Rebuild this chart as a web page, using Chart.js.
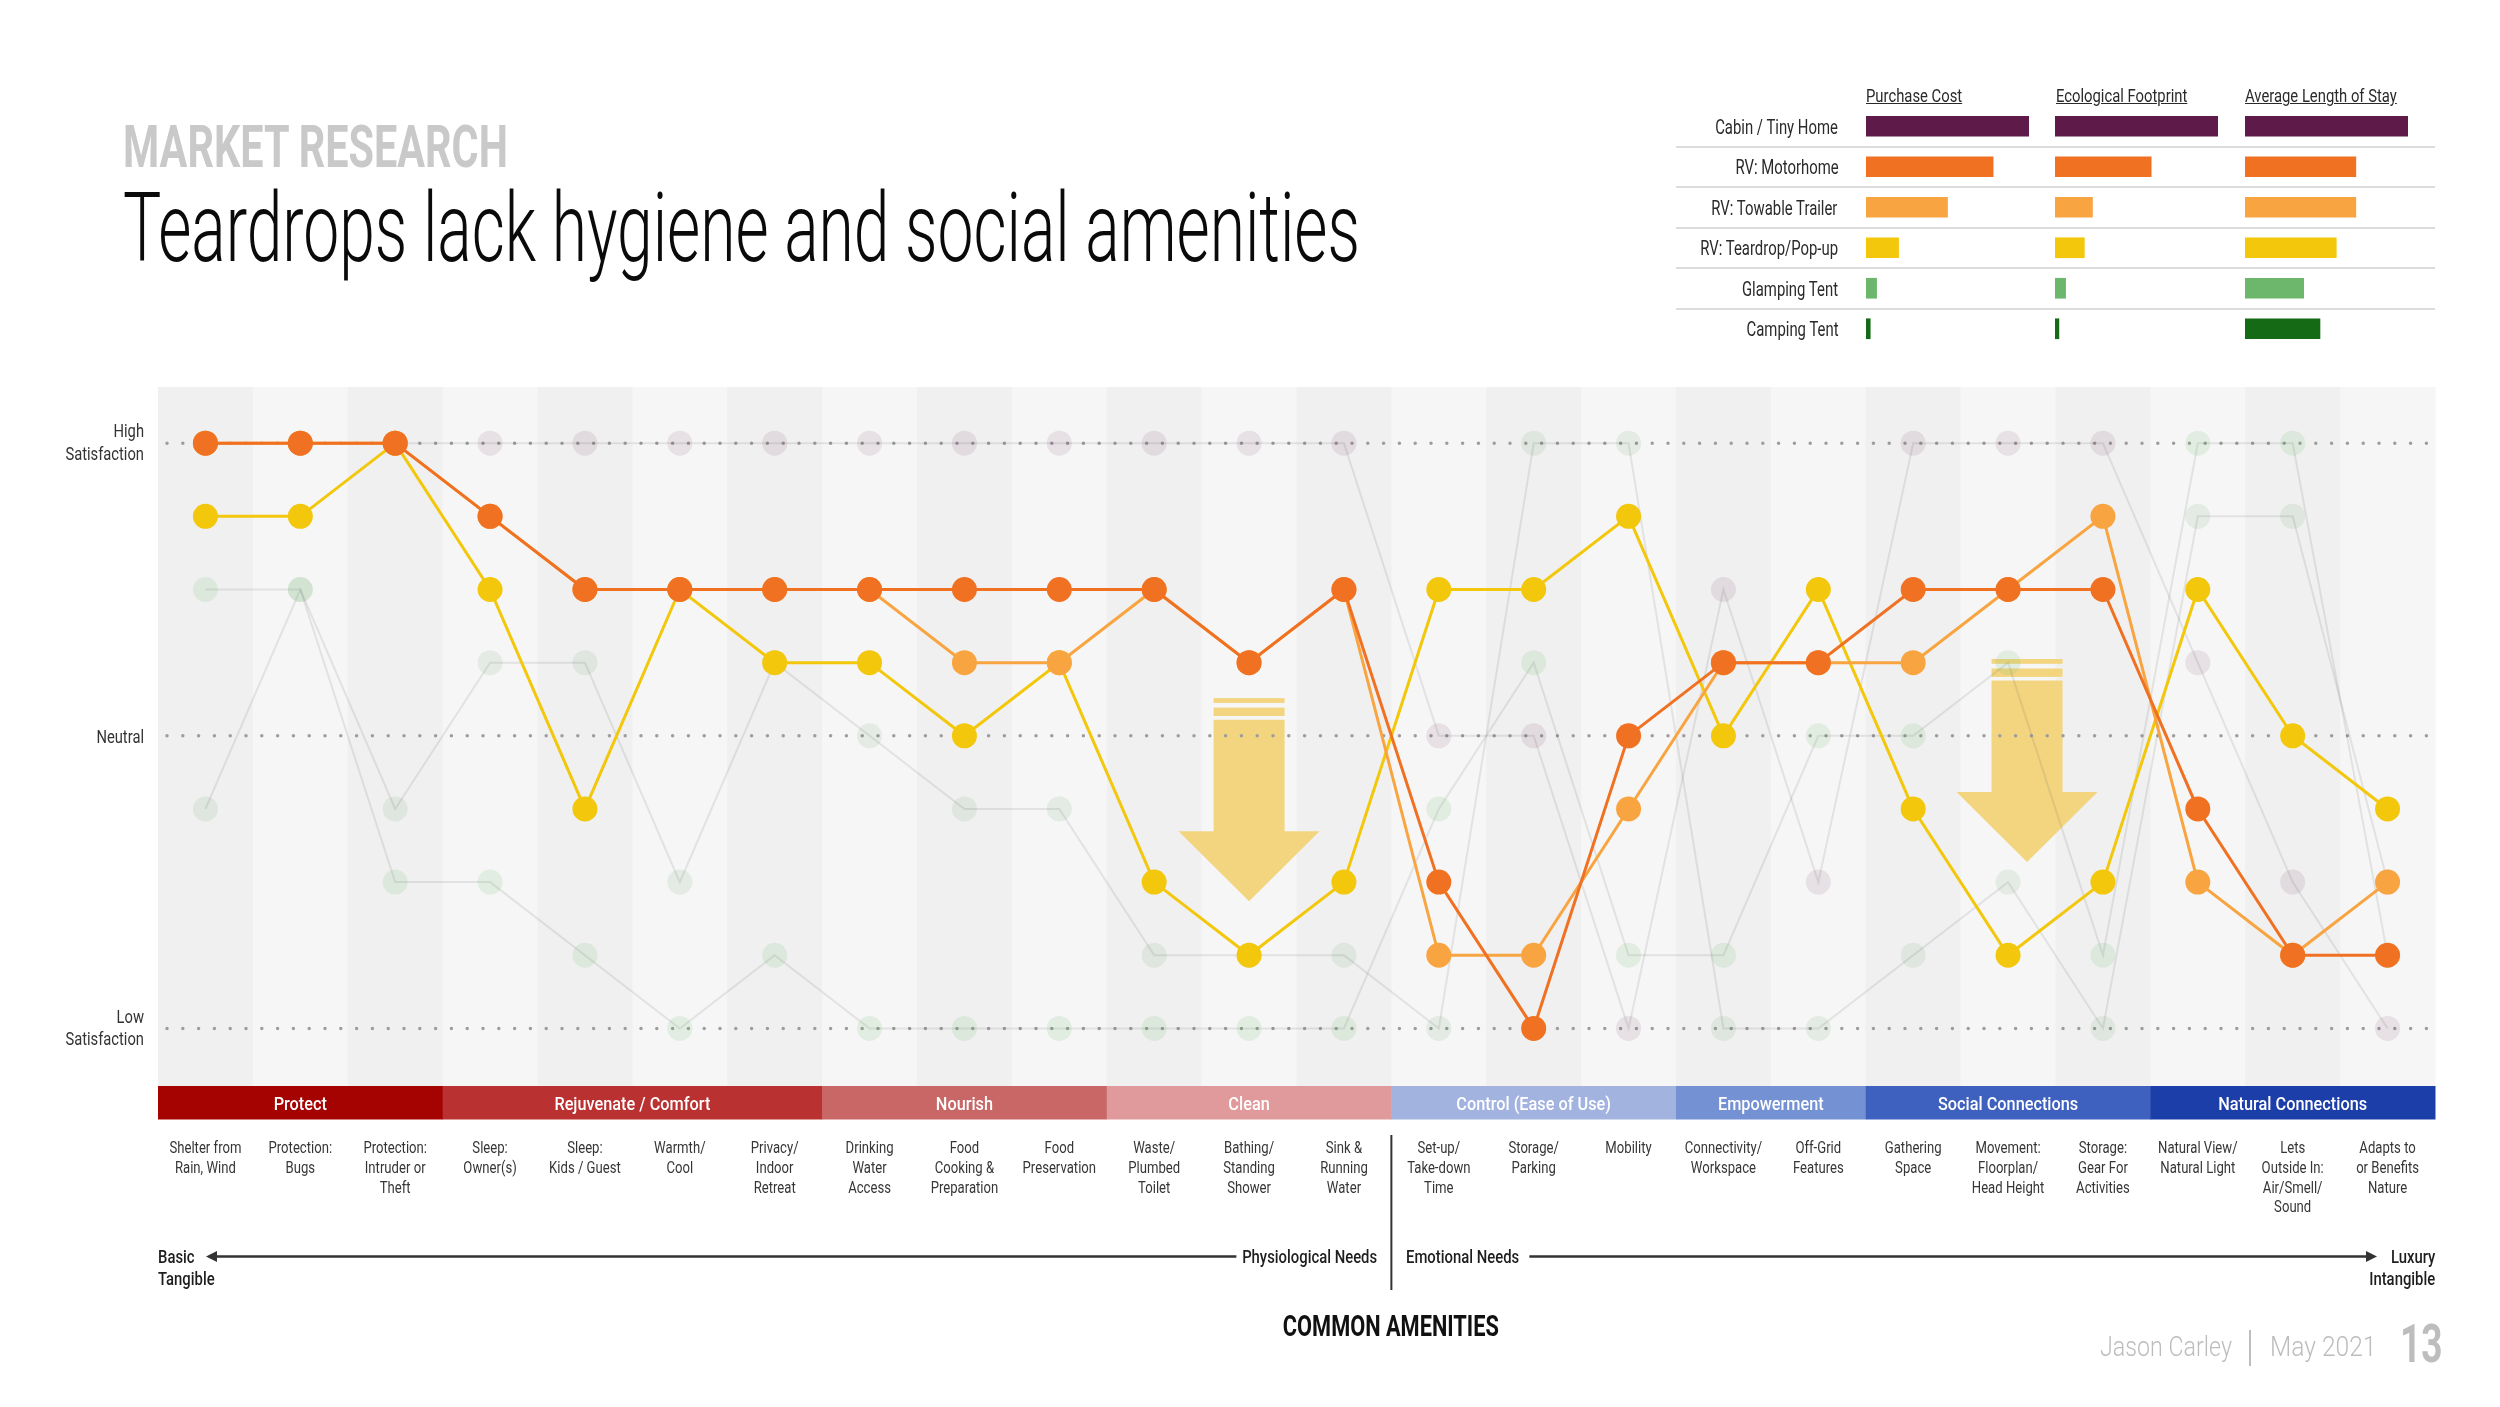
<!DOCTYPE html>
<html>
<head>
<meta charset="utf-8">
<script src="https://cdn.jsdelivr.net/npm/chart.js@4.4.1/dist/chart.umd.min.js"></script>
<style>
  html, body { margin: 0; padding: 0; background: #fff; }
  body { width: 2500px; height: 1407px; position: relative; overflow: hidden; font-family: Roboto, sans-serif; }
  canvas { position: absolute; }
  .t { position: absolute; white-space: nowrap; }
  .rule { position: absolute; background: #dcdcdc; height: 2px; }
</style>
</head>
<body>
<canvas id="main" width="2500" height="1407" style="left:0;top:0"></canvas>
<canvas id="cost" width="163" height="243" style="left:1866px;top:106px"></canvas>
<canvas id="eco" width="163" height="243" style="left:2055px;top:106px"></canvas>
<canvas id="stay" width="163" height="243" style="left:2245px;top:106px"></canvas>
<script>
// amenities along the x axis
const categories = [
  ["Shelter from", "Rain, Wind"],
  ["Protection:", "Bugs"],
  ["Protection:", "Intruder or", "Theft"],
  ["Sleep:", "Owner(s)"],
  ["Sleep:", "Kids / Guest"],
  ["Warmth/", "Cool"],
  ["Privacy/", "Indoor", "Retreat"],
  ["Drinking", "Water", "Access"],
  ["Food", "Cooking &", "Preparation"],
  ["Food", "Preservation"],
  ["Waste/", "Plumbed", "Toilet"],
  ["Bathing/", "Standing", "Shower"],
  ["Sink &", "Running", "Water"],
  ["Set-up/", "Take-down", "Time"],
  ["Storage/", "Parking"],
  ["Mobility"],
  ["Connectivity/", "Workspace"],
  ["Off-Grid", "Features"],
  ["Gathering", "Space"],
  ["Movement:", "Floorplan/", "Head Height"],
  ["Storage:", "Gear For", "Activities"],
  ["Natural View/", "Natural Light"],
  ["Lets", "Outside In:", "Air/Smell/", "Sound"],
  ["Adapts to", "or Benefits", "Nature"]
];
const groupNames = ["Protect", "Rejuvenate / Comfort", "Nourish", "Clean", "Control (Ease of Use)", "Empowerment", "Social Connections", "Natural Connections"];
const groupSizes = [3, 4, 3, 3, 3, 2, 3, 3];
const groupColors = ["#a50202", "#b93131", "#c96666", "#e09a9b", "#a3b3e0", "#7391d3", "#3e60bf", "#1c3ea8"];

const satisfactionTicks = [0, 4, 8];
const satisfactionLabels = [["Low", "Satisfaction"], ["Neutral"], ["High", "Satisfaction"]];

// 0 = low satisfaction, 4 = neutral, 8 = high satisfaction
const motorhome = [8, 8, 8, 7, 6, 6, 6, 6, 6, 6, 6, 5, 6, 2, 0, 4, 5, 5, 6, 6, 6, 3, 1, 1];
const towable   = [8, 8, 8, 7, 6, 6, 6, 6, 5, 5, 6, 5, 6, 1, 1, 3, 5, 5, 5, 6, 7, 2, 1, 2];
const teardrop  = [7, 7, 8, 6, 3, 6, 5, 5, 4, 5, 2, 1, 2, 6, 6, 7, 4, 6, 3, 1, 2, 6, 4, 3];
const cabin     = [8, 8, 8, 8, 8, 8, 8, 8, 8, 8, 8, 8, 8, 4, 4, 0, 6, 2, 8, 8, 8, 5, 2, 0];
const glamping  = [6, 6, 2, 2, 1, 0, 1, 0, 0, 0, 0, 0, 0, 3, 5, 1, 1, 4, 4, 5, 1, 8, 8, 1];
const camping   = [3, 6, 3, 5, 5, 2, 5, 4, 3, 3, 1, 1, 1, 0, 8, 8, 0, 0, 1, 2, 0, 7, 7, 2];

// comparison table, relative to Cabin / Tiny Home = 100
const vehicles = ["Cabin / Tiny Home", "RV: Motorhome", "RV: Towable Trailer", "RV: Teardrop/Pop-up", "Glamping Tent", "Camping Tent"];
const metrics = ["Purchase Cost", "Ecological Footprint", "Average Length of Stay"];
const purchaseCost = [100, 78, 50, 20, 6.5, 2.6];
const ecoFootprint = [100, 59, 23, 18, 6.5, 2.4];
const lengthOfStay = [100, 68, 68, 56, 36, 46];
const vehicleColors = ["#5e1b4a", "#f07122", "#f8a541", "#f2c70c", "#6cb76c", "#156b15"];

// ---------- text helpers (condensed look via horizontal squeeze) ----------
const measureCtx = document.createElement("canvas").getContext("2d");
function textWidth(font, s) { measureCtx.font = font; return measureCtx.measureText(s).width; }
function squeeze(font, ref, target) { return target / textWidth(font, ref); }

function label(s, x, cy, font, sx, o = {}) {
  const size = parseFloat(font.match(/([\d.]+)px/)[1]);
  const el = document.createElement("div");
  el.className = "t";
  el.textContent = s;
  el.style.font = font;
  el.style.lineHeight = "1";
  el.style.color = o.color || "#222";
  el.style.top = (cy - 0.486 * size) + "px";
  const w = textWidth(font, s);
  const align = o.align || "left";
  el.style.left = (align === "left" ? x : align === "right" ? x - w : x - w / 2) + "px";
  el.style.transformOrigin = align === "left" ? "0 50%" : align === "right" ? "100% 50%" : "50% 50%";
  el.style.transform = `scaleX(${sx})`;
  if (o.underline) el.style.textDecoration = "underline";
  document.body.appendChild(el);
}

function canvasText(ctx, s, x, cy, font, size, color, align, sx) {
  ctx.save();
  ctx.font = font;
  ctx.fillStyle = color;
  ctx.textAlign = align;
  ctx.textBaseline = "alphabetic";
  ctx.translate(x, cy + 0.355 * size);
  ctx.scale(sx, 1);
  ctx.fillText(s, 0, 0);
  ctx.restore();
}

// ---------- main chart plugins ----------
function drawArrow(ctx, cx, top) {
  const bw = 71, hw = 141;
  ctx.fillStyle = "#f3d580";
  ctx.fillRect(cx - bw / 2, top, bw, 4.8);
  ctx.fillRect(cx - bw / 2, top + 9.5, bw, 8.4);
  ctx.beginPath();
  ctx.moveTo(cx - bw / 2, top + 21.5);
  ctx.lineTo(cx + bw / 2, top + 21.5);
  ctx.lineTo(cx + bw / 2, top + 133);
  ctx.lineTo(cx + hw / 2, top + 133);
  ctx.lineTo(cx, top + 203);
  ctx.lineTo(cx - hw / 2, top + 133);
  ctx.lineTo(cx - bw / 2, top + 133);
  ctx.closePath();
  ctx.fill();
}

const backdrop = {
  id: "backdrop",
  beforeDatasetsDraw(chart) {
    const { ctx, chartArea: a, scales: { x, y } } = chart;
    const step = x.getPixelForValue(1) - x.getPixelForValue(0);
    ctx.save();
    categories.forEach((c, i) => {
      const cx = x.getPixelForValue(i);
      ctx.fillStyle = i % 2 ? "#f6f6f6" : "#f0f0f0";
      ctx.fillRect(cx - step / 2, a.top, step + 0.5, a.bottom - a.top);
    });
    drawArrow(ctx, x.getPixelForValue(11), y.getPixelForValue(4.515));
    drawArrow(ctx, x.getPixelForValue(19) + 0.2 * step, y.getPixelForValue(5.05));

    ctx.strokeStyle = "#9d9d9d";
    ctx.lineWidth = 3.5;
    ctx.lineCap = "round";
    ctx.setLineDash([0, 15.8]);
    satisfactionTicks.forEach(v => {
      const py = y.getPixelForValue(v);
      ctx.beginPath();
      ctx.moveTo(a.left + 9, py);
      ctx.lineTo(a.right - 6, py);
      ctx.stroke();
    });
    ctx.restore();
  }
};

const annotate = {
  id: "annotate",
  afterDraw(chart) {
    const { ctx, chartArea: a, scales: { x, y } } = chart;
    const step = x.getPixelForValue(1) - x.getPixelForValue(0);

    // amenity groups
    const gFont = "500 19px Roboto";
    const gSx = squeeze(gFont, "Rejuvenate / Comfort", 156);
    let start = 0;
    groupNames.forEach((name, g) => {
      const n = groupSizes[g];
      const left = x.getPixelForValue(start) - step / 2;
      const right = x.getPixelForValue(start + n - 1) + step / 2;
      ctx.fillStyle = groupColors[g];
      ctx.fillRect(left, a.bottom, right - left + 0.5, 33.5);
      canvasText(ctx, name, (left + right) / 2, a.bottom + 17, gFont, 19, "#fff", "center", gSx);
      start += n;
    });

    // amenity labels
    const cFont = "17px Roboto";
    const cSx = squeeze(cFont, "Shelter from", 72);
    categories.forEach((lines, i) => {
      lines.forEach((s, k) => {
        canvasText(ctx, s, x.getPixelForValue(i), a.bottom + 61 + k * 19.8, cFont, 17, "#363636", "center", cSx);
      });
    });

    // satisfaction labels
    const yFont = "19px Roboto";
    const ySx = squeeze(yFont, "Satisfaction", 78.6);
    satisfactionTicks.forEach((v, k) => {
      const lines = satisfactionLabels[k];
      const py = y.getPixelForValue(v);
      const offs = lines.length === 1 ? [0] : [-12.5, 10];
      lines.forEach((s, j) => canvasText(ctx, s, a.left - 14, py + offs[j], yFont, 19, "#333", "right", ySx));
    });

    // needs divider and direction arrows
    const split = x.getPixelForValue(12) + step / 2;
    const ay = a.bottom + 170.6;
    ctx.save();
    ctx.strokeStyle = "#333";
    ctx.fillStyle = "#333";
    ctx.lineWidth = 2;
    ctx.beginPath();
    ctx.moveTo(split, a.bottom + 49);
    ctx.lineTo(split, a.bottom + 204);
    ctx.stroke();
    ctx.lineWidth = 2.5;
    ctx.beginPath();
    ctx.moveTo(a.left + 56, ay);
    ctx.lineTo(split - 155, ay);
    ctx.moveTo(split + 138, ay);
    ctx.lineTo(a.right - 66, ay);
    ctx.stroke();
    ctx.beginPath();
    ctx.moveTo(a.left + 48, ay);
    ctx.lineTo(a.left + 59, ay - 5.5);
    ctx.lineTo(a.left + 59, ay + 5.5);
    ctx.closePath();
    ctx.fill();
    ctx.beginPath();
    ctx.moveTo(a.right - 58, ay);
    ctx.lineTo(a.right - 69, ay - 5.5);
    ctx.lineTo(a.right - 69, ay + 5.5);
    ctx.closePath();
    ctx.fill();
    ctx.restore();
  }
};

function strong(label, data, color, order) {
  return { label, data, borderColor: color, borderWidth: 3, pointRadius: 12.5, pointBackgroundColor: color,
           pointBorderWidth: 0, pointHoverRadius: 12.5, order };
}
function faint(label, data, dot, order) {
  return { label, data, borderColor: "rgba(80,80,80,0.12)", borderWidth: 2, pointRadius: 12.5, pointBackgroundColor: dot,
           pointBorderWidth: 0, pointHoverRadius: 12.5, order };
}

new Chart(document.getElementById("main"), {
  type: "line",
  data: {
    labels: categories,
    datasets: [
      strong("RV: Motorhome", motorhome, "#f07122", 1),
      strong("RV: Towable Trailer", towable, "#f8a541", 2),
      strong("RV: Teardrop/Pop-up", teardrop, "#f2c70c", 3),
      faint("Cabin / Tiny Home", cabin, "rgba(94,27,74,0.10)", 5),
      faint("Glamping Tent", glamping, "rgba(108,183,108,0.14)", 6),
      faint("Camping Tent", camping, "rgba(21,107,21,0.08)", 7)
    ]
  },
  options: {
    responsive: false,
    animation: false,
    devicePixelRatio: 1,
    events: [],
    layout: { padding: { left: 158, right: 65, top: 387, bottom: 321 } },
    scales: {
      x: { type: "category", offset: true, display: false },
      y: { min: -0.787, max: 8.768, display: false }
    },
    plugins: { legend: { display: false }, tooltip: { enabled: false } }
  },
  plugins: [backdrop, annotate]
});

// ---------- comparison table ----------
function tableChart(id, values) {
  return new Chart(document.getElementById(id), {
    type: "bar",
    data: { labels: vehicles, datasets: [{ data: values, backgroundColor: vehicleColors, barThickness: 20, borderWidth: 0 }] },
    options: {
      indexAxis: "y",
      responsive: false,
      animation: false,
      devicePixelRatio: 1,
      events: [],
      scales: { x: { display: false, min: 0, max: 100 }, y: { display: false } },
      plugins: { legend: { display: false }, tooltip: { enabled: false } }
    }
  });
}
tableChart("cost", purchaseCost);
tableChart("eco", ecoFootprint);
tableChart("stay", lengthOfStay);

const rowTop = 106, rowH = 40.5;
const rowFont = "20px Roboto";
const rowSx = squeeze(rowFont, "RV: Teardrop/Pop-up", 138);
vehicles.forEach((v, i) => label(v, 1838.6, rowTop + (i + 0.5) * rowH, rowFont, rowSx, { align: "right", color: "#2a2a2a" }));
for (let i = 1; i < vehicles.length; i++) {
  const r = document.createElement("div");
  r.className = "rule";
  r.style.left = "1676px";
  r.style.width = "759px";
  r.style.top = (rowTop + i * rowH - 1) + "px";
  document.body.appendChild(r);
}
const headFont = "19px Roboto";
const headSx = squeeze(headFont, "Average Length of Stay", 151.8);
[1866, 2055.5, 2245].forEach((hx, i) => label(metrics[i], hx, 95.7, headFont, headSx, { underline: true, color: "#2a2a2a" }));

// ---------- titles and notes ----------
label("MARKET RESEARCH", 123, 146.3, "700 60px Roboto", squeeze("700 60px Roboto", "MARKET RESEARCH", 386), { color: "#c9c9c9" });
const titleText = "Teardrops lack hygiene and social amenities";
label(titleText, 123, 226.8, "300 97px Roboto", squeeze("300 97px Roboto", titleText, 1237), { color: "#0a0a0a" });

const noteFont = "500 18.5px Roboto";
const noteSx = squeeze(noteFont, "Physiological Needs", 135);
label("Basic", 158, 1256.6, noteFont, noteSx, { color: "#1e1e1e" });
label("Tangible", 158, 1279, noteFont, noteSx, { color: "#1e1e1e" });
label("Physiological Needs", 1377, 1256.6, noteFont, noteSx, { align: "right", color: "#1e1e1e" });
label("Emotional Needs", 1405.6, 1256.6, noteFont, noteSx, { color: "#1e1e1e" });
label("Luxury", 2435, 1256.6, noteFont, noteSx, { align: "right", color: "#1e1e1e" });
label("Intangible", 2435, 1279, noteFont, noteSx, { align: "right", color: "#1e1e1e" });

label("COMMON AMENITIES", 1391, 1326, "700 30px Roboto", squeeze("700 30px Roboto", "COMMON AMENITIES", 216), { align: "center", color: "#111" });

const footFont = "300 27px Roboto";
label("Jason Carley", 2100, 1347, footFont, squeeze(footFont, "Jason Carley", 132), { color: "#bdbdbd" });
label("May 2021", 2270, 1347, footFont, squeeze(footFont, "May 2021", 106.5), { color: "#bdbdbd" });
label("13", 2399.5, 1343, "700 54px Roboto", squeeze("700 54px Roboto", "13", 42.5), { color: "#bdbdbd" });
const bar = document.createElement("div");
bar.style.cssText = "position:absolute;left:2249px;top:1330px;width:2px;height:36px;background:#bdbdbd";
document.body.appendChild(bar);
</script>
</body>
</html>
